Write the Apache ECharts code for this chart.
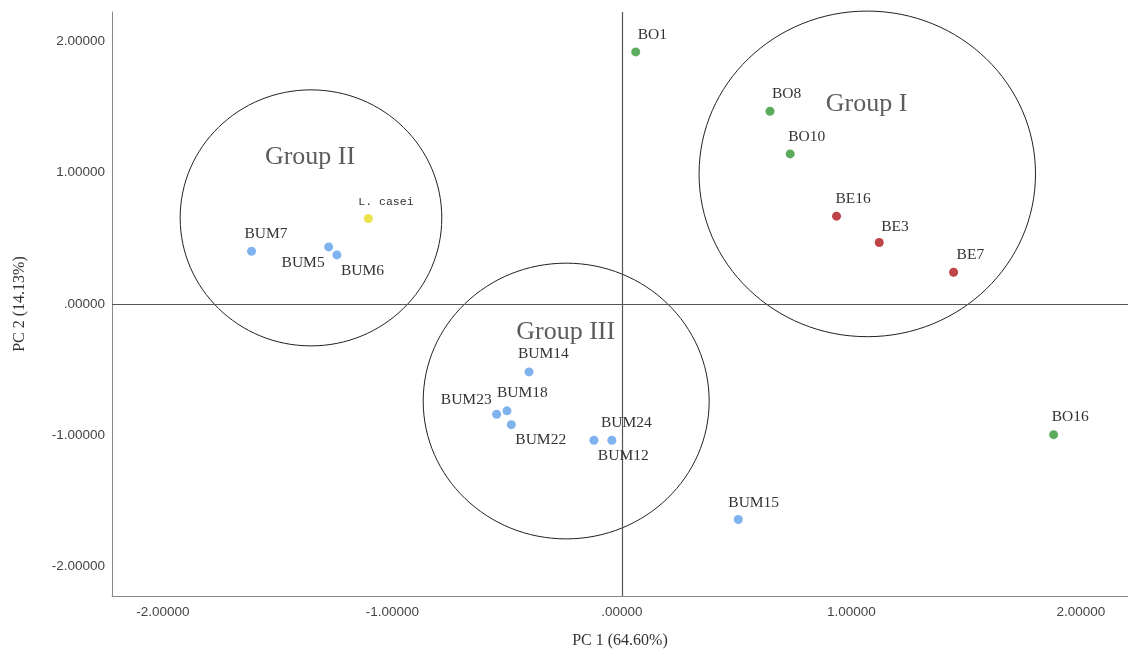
<!DOCTYPE html>
<html><head><meta charset="utf-8">
<script src="https://cdn.jsdelivr.net/npm/echarts@6/dist/echarts.min.js"></script>
<style>html,body{margin:0;padding:0;background:#fff}#c{width:1128px;height:657px}</style>
</head><body><div id="c"></div>
<script>
// ---- data ----
const greenNames = ['BO1','BO8','BO10','BO16'];
const greenX = [0.06, 0.645, 0.733, 1.881];
const greenY = [1.92, 1.468, 1.143, -0.995];

const redNames = ['BE16','BE3','BE7'];
const redX = [0.935, 1.121, 1.445];
const redY = [0.669, 0.468, 0.242];

const yellowNames = ['L. casei'];
const yellowX = [-1.105];
const yellowY = [0.651];

const blueNames = ['BUM7','BUM5','BUM6','BUM14','BUM18','BUM23','BUM22','BUM24','BUM12','BUM15'];
const blueX = [-1.614, -1.278, -1.242, -0.405, -0.501, -0.546, -0.482, -0.122, -0.044, 0.507];
const blueY = [0.402, 0.435, 0.374, -0.517, -0.814, -0.840, -0.919, -1.038, -1.038, -1.641];

const groupNames = ['Group I','Group II','Group III'];
const groupCX = [1.069, -1.355, -0.243];
const groupCY = [0.991, 0.656, -0.739];
const groupRX = [0.733, 0.570, 0.623];
const groupRY = [1.240, 0.975, 1.050];
const groupLabelX = [1.066, -1.359, -0.245];
const groupLabelY = [1.519, 1.122, -0.211];

const tickValues = [-2, -1, 0, 1, 2];
const xTickLabels = ['-2.00000','-1.00000','.00000','1.00000','2.00000'];
const yTickLabels = ['-2.00000','-1.00000','.00000','1.00000','2.00000'];

// ---- label placement (style, not data) ----
const labelPlace = {
  'BO1':[2,-17,'left'], 'BO8':[2,-17,'left'], 'BO10':[-2,-17,'left'], 'BO16':[-2,-17.5,'left'],
  'BE16':[-1,-17,'left'], 'BE3':[2,-16,'left'], 'BE7':[3,-17,'left'],
  'L. casei':[-10,-17,'left'],
  'BUM7':[-7,-17,'left'], 'BUM5':[-4,16,'right'], 'BUM6':[4,16.5,'left'],
  'BUM14':[-11,-18,'left'], 'BUM18':[-10,-17.5,'left'], 'BUM23':[-5,-14,'right'],
  'BUM22':[4,15,'left'], 'BUM24':[7,-17,'left'], 'BUM12':[-14,15.5,'left'], 'BUM15':[-10,-17,'left']
};

function pts(names, xs, ys, mono) {
  return names.map((n, i) => {
    const p = labelPlace[n] || [-2,-17,'left'];
    return {
      name: n, value: [xs[i], ys[i]],
      label: {
        show: true, position: 'inside', offset: [p[0], p[1]], align: p[2], verticalAlign: 'middle',
        formatter: '{b}', color: '#333',
        fontFamily: mono ? 'Liberation Mono' : 'Liberation Serif',
        fontSize: mono ? 11.5 : 15.5
      }
    };
  });
}

function scatter(name, names, xs, ys, color, mono) {
  return {
    type: 'scatter', name: name, symbol: 'circle', symbolSize: 9,
    itemStyle: { color: color, opacity: 1 },
    data: pts(names, xs, ys, mono), z: 5, silent: true
  };
}

const ellipseData = groupNames.map((n, i) => [groupCX[i], groupCY[i], groupRX[i], groupRY[i]]);
const groupLabelData = groupNames.map((n, i) => ({ name: n, value: [groupLabelX[i], groupLabelY[i]] }));

const chart = echarts.init(document.getElementById('c'), null, { renderer: 'canvas' });
chart.setOption({
  animation: false,
  backgroundColor: '#fff',
  grid: { left: 112, top: 12, right: 0, bottom: 61, containLabel: false },
  xAxis: {
    type: 'value', min: -2.222, max: 2.205,
    name: 'PC 1 (64.60%)', nameLocation: 'middle', nameGap: 37,
    nameTextStyle: { fontFamily: 'Liberation Serif', fontSize: 16, color: '#333' },
    axisLine: { show: true, onZero: false, lineStyle: { color: '#888', width: 1 } },
    axisTick: { show: false },
    splitLine: { show: false },
    axisLabel: {
      customValues: tickValues, margin: 9, color: '#444', fontFamily: 'Liberation Sans', fontSize: 13.5,
      formatter: v => xTickLabels[tickValues.indexOf(Math.round(v))]
    }
  },
  yAxis: {
    type: 'value', min: -2.224, max: 2.224,
    name: 'PC 2 (14.13%)', nameLocation: 'middle', nameGap: 84, nameRotate: 90,
    nameTextStyle: { fontFamily: 'Liberation Serif', fontSize: 16, color: '#333' },
    axisLine: { show: true, onZero: false, lineStyle: { color: '#888', width: 1 } },
    axisTick: { show: false },
    splitLine: { show: false },
    axisLabel: {
      customValues: tickValues, margin: 7, color: '#444', fontFamily: 'Liberation Sans', fontSize: 13.5,
      padding: [4, 0, 0, 0],
      formatter: v => yTickLabels[tickValues.indexOf(Math.round(v))]
    }
  },
  series: [
    {
      type: 'custom', silent: true, z: 3,
      data: ellipseData,
      renderItem: function (params, api) {
        const c = api.coord([api.value(0), api.value(1)]);
        const s = api.size([api.value(2), api.value(3)]);
        return {
          type: 'ellipse',
          shape: { cx: c[0], cy: c[1], rx: s[0], ry: s[1] },
          style: { fill: 'none', stroke: '#222', lineWidth: 1 }
        };
      },
      markLine: {
        silent: true, symbol: 'none', label: { show: false },
        lineStyle: { color: '#555', width: 1.2, type: 'solid' },
        data: [{ xAxis: 0 }, { yAxis: 0 }]
      }
    },
    {
      type: 'scatter', symbolSize: 0, silent: true, z: 6,
      data: groupLabelData,
      label: { show: true, position: 'inside', formatter: '{b}', color: '#333',
        fontFamily: 'Liberation Serif', fontSize: 26 }
    },
    scatter('BO', greenNames, greenX, greenY, '#5dab5d', false),
    scatter('BE', redNames, redX, redY, '#bf4447', false),
    scatter('L. casei', yellowNames, yellowX, yellowY, '#ede34c', true),
    scatter('BUM', blueNames, blueX, blueY, '#7fb3ee', false)
  ]
});
</script></body></html>
